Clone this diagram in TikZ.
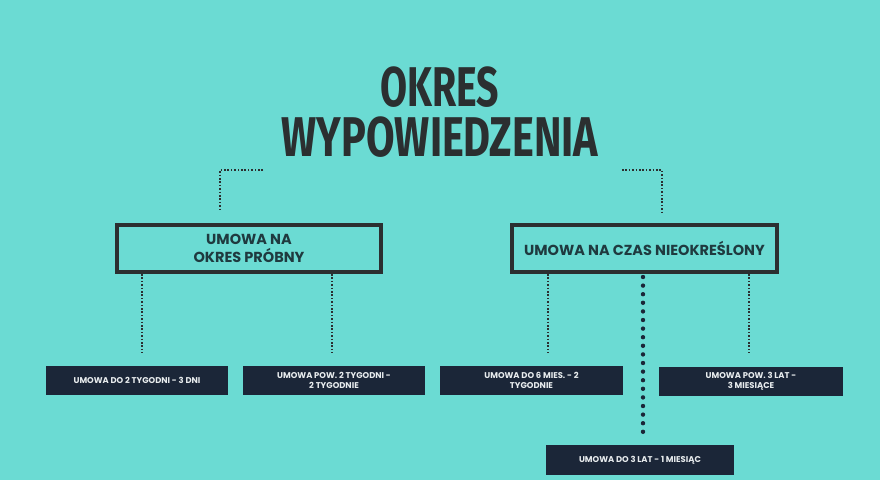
\documentclass[tikz,border=0pt]{standalone}
\usepackage{fontspec}
\setmainfont{Poppins}
\newfontfamily\titlefont{Fira Sans}
\usetikzlibrary{positioning, calc}

\definecolor{turkus}{RGB}{107,219,211}
\definecolor{ramka}{RGB}{43,47,48}
\definecolor{granat}{RGB}{27,38,56}
\definecolor{tekst}{RGB}{31,58,63}
\definecolor{jasny}{RGB}{232,236,238}

\tikzset{
  tytul/.style={font=\titlefont\bfseries\fontsize{56}{50}\selectfont, text=ramka, align=center, inner sep=0pt},
  rodzaj/.style={draw=ramka, line width=4pt, fill=turkus, text=tekst, inner sep=0pt,
    font=\bfseries\fontsize{14.5}{18}\selectfont, align=center},
  okres/.style={fill=granat, text=jasny, inner sep=0pt, minimum height=29pt,
    font=\bfseries\fontsize{8.4}{10}\selectfont, align=center},
  kropki/.style={draw=ramka, line width=1.6pt, dash pattern=on 1.6pt off 1.8pt},
  grube/.style={draw=granat, line width=4.4pt, line cap=round, dash pattern=on 0pt off 8.6pt}
}

\begin{document}
\begin{tikzpicture}[x=1pt,y=-1pt]
    \fill[turkus] (0,0) rectangle (880,480);
    \useasboundingbox (0,0) rectangle (880,480);

    % title
    \node[tytul] (T) at (440,112.5) {\scalebox{0.7}[1]{OKRES}\\\scalebox{0.74}[1]{WYPOWIEDZENIA}};

    % contract types
    \node[rodzaj, minimum width=264pt, minimum height=47pt] (P) at (249,248.5) {UMOWA NA\\OKRES PRÓBNY};
    \node[rodzaj, minimum width=265pt, minimum height=47pt] (N) at (644.5,248.5) {UMOWA NA CZAS NIEOKREŚLONY};

    % notice periods
    \node[okres, minimum width=182pt] (P1) at (137,380.5) {UMOWA DO 2 TYGODNI - 3 DNI};
    \node[okres, minimum width=182pt] (P2) at (334,380.5) {UMOWA POW. 2 TYGODNI -\\2 TYGODNIE};
    \node[okres, minimum width=183pt] (N1) at (531.5,380.5) {UMOWA DO 6 MIES. - 2\\TYGODNIE};
    \node[okres, minimum width=184pt] (N3) at (751,381.5) {UMOWA POW. 3 LAT -\\3 MIESIĄCE};
    \node[okres, minimum width=188pt, minimum height=30pt] (N2) at (640,460) {UMOWA DO 3 LAT - 1 MIESIĄC};

    % loose ends
    \coordinate (a1) at (263,170);
    \coordinate (a2) at (220,211);
    \coordinate (b1) at (622,170);
    \coordinate (b2) at (662,212);
    \coordinate (p1) at (142,353);
    \coordinate (p2) at (332,353);
    \coordinate (n1) at (548,353);
    \coordinate (n3) at (749,353);
    \coordinate (n2) at (643,432);

    \draw[kropki] (a1) -| (a2);
    \draw[kropki] (b1) -| (b2);
    \draw[kropki] (P.south -| p1) -- (p1);
    \draw[kropki] (P.south -| p2) -- (p2);
    \draw[kropki] (N.south -| n1) -- (n1);
    \draw[kropki] (N.south -| n3) -- (n3);
    \draw[grube] ($(N.south -| n2)+(0,3)$) -- (n2);
\end{tikzpicture}
\end{document}
